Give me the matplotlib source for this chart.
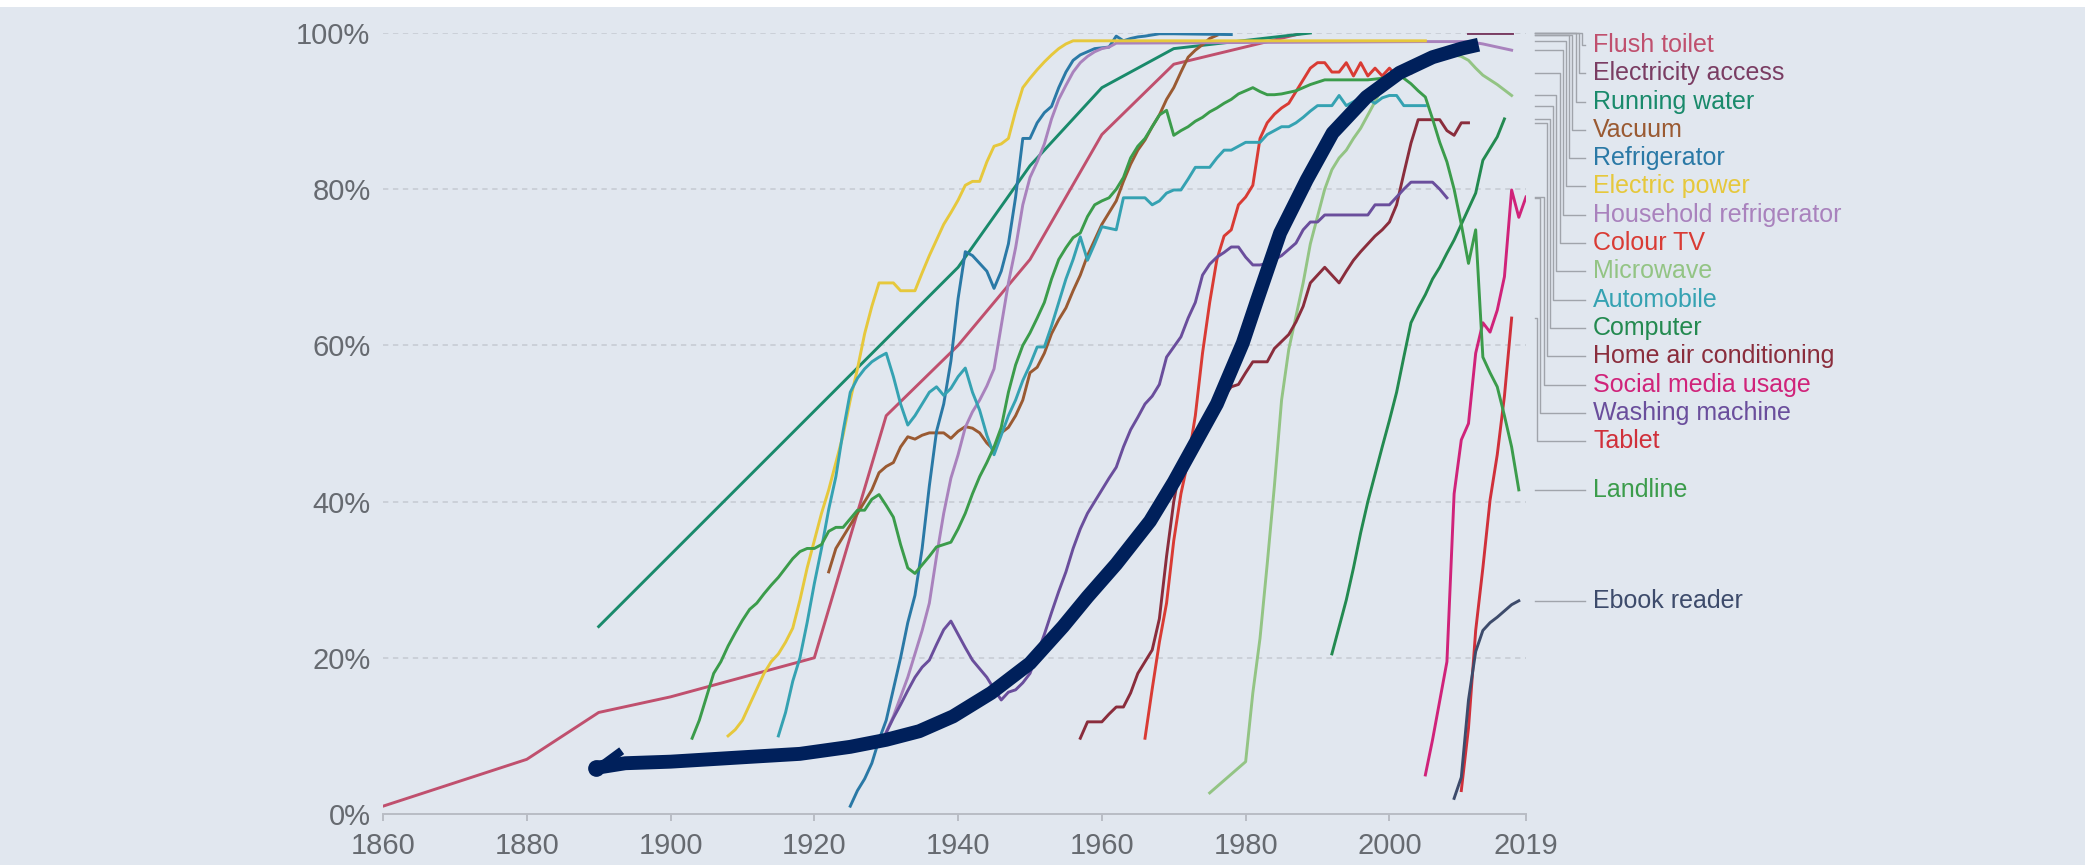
"""
technology adoption in US households, with the hand drawn S-curve on top
out: out.png
"""

import matplotlib
matplotlib.use("Agg")
import matplotlib.pyplot as plt
from matplotlib.patches import Rectangle

plt.rcParams['font.family'] = ['Liberation Sans', 'DejaVu Sans']

# ---- data (share of US households, %) ----
flush_toilet_years = [1860, 1880, 1890, 1900, 1920, 1930, 1940, 1950, 1960, 1970, 1988]
flush_toilet_vals = [1, 7, 13, 15, 20, 51, 60, 71, 87, 96, 100]

electricity_access_years = [2011, 2013, 2015, 2017]
electricity_access_vals = [100, 100, 100, 100]

running_water_years = [1890, 1940, 1950, 1960, 1970, 1989]
running_water_vals = [24, 70, 83, 93, 98, 100]

vacuum_years = list(range(1922, 1977))
vacuum_vals = [31, 34, 35.5, 37, 38.5, 40, 41.5, 43.7, 44.5, 45, 47, 48.3, 48, 48.5,
               48.8, 48.8, 48.8, 48.1, 49, 49.6, 49.4, 48.8, 47.5, 46.6, 48.8, 49.5,
               51, 53, 56.5, 57.2, 59, 61.5, 63.3, 64.8, 67, 69, 71.5, 73.5, 75.5, 77,
               78.5, 81, 83.2, 85, 86.3, 88, 89.5, 91.5, 93, 95, 96.9, 97.8, 98.5,
               99.3, 99.7]

refrigerator_years = list(range(1925, 1967)) + [1968, 1970, 1978]
refrigerator_vals = [1, 3, 4.5, 6.5, 9.5, 12, 16, 20, 24.5, 28, 34, 42, 49, 52.5, 58,
                     66, 72, 71.5, 70.5, 69.5, 67.3, 69.5, 73, 79, 86.5, 86.5, 88.5,
                     89.8, 90.6, 93, 95, 96.5, 97.2, 97.6, 98, 98.1, 98.2, 99.6, 99,
                     99.3, 99.5, 99.6, 99.9, 99.9, 99.8]

electric_power_years = list(range(1908, 1957)) + [2005]
electric_power_vals = [10, 10.8, 12, 14, 16, 18, 19.5, 20.5, 22, 23.8, 27.4, 31.5, 35,
                       38.5, 41.5, 45, 48.5, 53, 57, 61.5, 65, 68, 68, 68, 67, 67, 67,
                       69.3, 71.5, 73.5, 75.5, 77, 78.6, 80.5, 81, 81, 83.5, 85.5, 85.8,
                       86.5, 90, 93, 94.2, 95.3, 96.3, 97.2, 98, 98.6, 99, 99]

household_fridge_years = list(range(1930, 1963)) + [2005, 2011, 2013, 2017]
household_fridge_vals = [10.5, 12.5, 15, 17.5, 20.5, 23.5, 27, 33, 38.5, 43, 46, 49.5,
                         51.5, 53, 54.8, 57, 62.5, 68, 72.5, 78, 81.5, 83.5, 85.8, 89,
                         91.5, 93.3, 95, 96.2, 97, 97.6, 98, 98.2, 98.7, 98.9, 98.9,
                         98.6, 97.8]

colour_tv_years = list(range(1966, 2004))
colour_tv_vals = [9.7, 16, 22, 27, 35, 41, 45.3, 51, 59, 65.5, 71, 74, 74.8, 78, 79,
                  80.5, 86.5, 88.5, 89.6, 90.4, 91, 92.5, 94, 95.5, 96.2, 96.2, 95, 95,
                  96.2, 94.5, 96.2, 94.5, 95.5, 94.5, 95.5, 94.5, 95, 94.9]

microwave_years = [1975] + list(range(1980, 2018))
microwave_vals = [2.7, 6.7, 15.5, 22.5, 32, 42, 53, 59.5, 63.7, 68, 73, 76.5, 80, 82.5,
                  84, 85, 86.5, 87.8, 89.5, 91.2, 93, 94, 95, 95.8, 96.3, 96.6, 96.8,
                  96.8, 97, 97.1, 97.2, 97, 96.5, 95.5, 94.6, 94, 93.4, 92.7, 92]

automobile_years = list(range(1915, 2006))
automobile_vals = [10, 13, 17, 20, 24.5, 29.5, 34, 39, 43.2, 49, 54, 55.8, 57, 57.9,
                   58.5, 59, 56, 52.5, 49.8, 51, 52.5, 54, 54.7, 53.6, 54.5, 56, 57.1,
                   54, 51.7, 48.5, 46, 48.5, 51, 53, 55.5, 57.5, 59.8, 59.8, 62.5, 65.5,
                   68.5, 71, 73.9, 70.9, 73, 75.2, 75, 74.8, 78.9, 78.9, 78.9, 78.9, 78,
                   78.5, 79.5, 79.9, 79.9, 81.3, 82.8, 82.8, 82.8, 84, 85, 85, 85.5, 86,
                   86, 86, 87, 87.5, 88, 88, 88.5, 89.2, 90, 90.7, 90.7, 90.7, 92, 90.7,
                   91.2, 91.7, 91.5, 91, 91.7, 92, 92, 90.7, 90.7, 90.7, 90.7]

computer_years = [1992] + list(range(1994, 2017))
computer_vals = [20.5, 27.4, 31.5, 36, 40, 43.5, 47, 50.4, 54, 58.5, 62.9, 64.8, 66.5,
                 68.5, 70, 71.8, 73.5, 75.5, 77.5, 79.5, 83.7, 85.2, 86.7, 89]

home_ac_years = list(range(1957, 2012))
home_ac_vals = [9.7, 11.8, 11.8, 11.8, 12.8, 13.7, 13.7, 15.5, 18, 19.5, 21, 25, 33, 40,
                45, 47, 48.5, 50, 51, 52, 53.5, 54.7, 55, 56.5, 57.9, 57.9, 57.9, 59.6,
                60.5, 61.4, 63, 65, 68, 69, 70, 69, 68, 69.5, 70.9, 72, 73, 74, 74.8,
                75.8, 78, 82, 85.9, 88.9, 88.9, 88.9, 88.9, 87.5, 86.9, 88.5, 88.5]

social_media_years = list(range(2005, 2020))
social_media_vals = [5, 9.5, 14.5, 19.5, 41, 47.9, 50, 59, 62.9, 61.7, 64.5, 68.8,
                     79.9, 76.4, 79]

washing_machine_years = list(range(1930, 2009))
washing_machine_vals = [10.4, 12.3, 14, 15.8, 17.5, 18.8, 19.7, 21.7, 23.6, 24.7, 23,
                        21.3, 19.7, 18.6, 17.5, 16, 14.6, 15.6, 15.9, 16.8, 18, 20.5,
                        23, 25.8, 28.5, 31, 34, 36.5, 38.5, 40, 41.5, 43, 44.4, 47,
                        49.2, 50.8, 52.5, 53.5, 55, 58.5, 59.8, 61.1, 63.5, 65.5, 69,
                        70.4, 71.3, 71.9, 72.6, 72.6, 71.3, 70.3, 70.3, 70.5, 71, 71.5,
                        72.3, 73.1, 74.8, 75.8, 75.8, 76.7, 76.7, 76.7, 76.7, 76.7,
                        76.7, 76.7, 78, 78, 78, 79, 80, 80.9, 80.9, 80.9, 80.9, 80,
                        78.9]

tablet_years = list(range(2010, 2018))
tablet_vals = [3, 11, 23.5, 31.5, 40.2, 46, 53.5, 63.5]

landline_years = list(range(1903, 2019))
landline_vals = [9.7, 12, 15, 18, 19.5, 21.5, 23.2, 24.8, 26.2, 27, 28.2, 29.3, 30.3,
                 31.5, 32.7, 33.6, 34, 34, 34.5, 36.2, 36.7, 36.7, 37.8, 38.9, 38.9,
                 40.3, 40.9, 39.5, 38, 34.5, 31.5, 30.8, 31.9, 33, 34.2, 34.5, 34.8,
                 36.5, 38.5, 41, 43.2, 45, 47, 49.5, 54, 57.5, 60, 61.6, 63.5, 65.5,
                 68.5, 71, 72.5, 73.8, 74.4, 76.5, 78, 78.5, 78.9, 80, 81.5, 84, 85.5,
                 86.5, 88, 89.5, 90.1, 86.9, 87.5, 88, 88.7, 89.2, 89.9, 90.4, 91,
                 91.5, 92.2, 92.6, 93, 92.5, 92.1, 92.1, 92.2, 92.4, 92.6, 93, 93.4,
                 93.7, 94, 94, 94, 94, 94, 94, 94, 94.1, 94.2, 94.5, 94.9, 94.2, 93.5,
                 92.6, 91.8, 89, 86, 83.5, 80, 75.5, 70.5, 74.8, 58.5, 56.5, 54.7, 51,
                 47, 41.5]

ebook_years = list(range(2009, 2019))
ebook_vals = [2, 4.7, 14.6, 20.8, 23.5, 24.5, 25.2, 26, 26.8, 27.3]

# hand drawn annotation curve
curve_years = [1889.6, 1893.7, 1900, 1910.7, 1918, 1925, 1930, 1934.6, 1939.3, 1944.6,
               1950, 1954.6, 1958, 1962, 1966.7, 1970, 1973, 1976, 1979.6, 1981.6,
               1984.8, 1988.5, 1992.1, 1996.8, 2001.4, 2006, 2010, 2012.4]
curve_vals = [5.9, 6.5, 6.7, 7.3, 7.7, 8.6, 9.5, 10.6, 12.5, 15.5, 19.3, 24, 27.8, 32,
              37.5, 42.5, 47.5, 52.5, 60.3, 65.8, 74.4, 81.2, 87.2, 91.8, 94.9, 96.9,
              98.0, 98.5]
hook_years = [1890.4, 1893.2]
hook_vals = [6.2, 8.1]

series = [
    ("Flush toilet", flush_toilet_years, flush_toilet_vals, "#c0506e"),
    ("Electricity access", electricity_access_years, electricity_access_vals, "#7a3d63"),
    ("Running water", running_water_years, running_water_vals, "#198a6b"),
    ("Vacuum", vacuum_years, vacuum_vals, "#9a5a32"),
    ("Refrigerator", refrigerator_years, refrigerator_vals, "#2a79a6"),
    ("Household refrigerator", household_fridge_years, household_fridge_vals, "#a982bd"),
    ("Electric power", electric_power_years, electric_power_vals, "#e6c83c"),
    ("Colour TV", colour_tv_years, colour_tv_vals, "#d93b34"),
    ("Microwave", microwave_years, microwave_vals, "#93c484"),
    ("Automobile", automobile_years, automobile_vals, "#35a2b2"),
    ("Computer", computer_years, computer_vals, "#238a50"),
    ("Home air conditioning", home_ac_years, home_ac_vals, "#8a2d3c"),
    ("Social media usage", social_media_years, social_media_vals, "#d0237a"),
    ("Washing machine", washing_machine_years, washing_machine_vals, "#6a4e9c"),
    ("Tablet", tablet_years, tablet_vals, "#d0303a"),
    ("Landline", landline_years, landline_vals, "#3b9c4b"),
    ("Ebook reader", ebook_years, ebook_vals, "#3d4b6b"),
]
label_order = ["Flush toilet", "Electricity access", "Running water", "Vacuum",
               "Refrigerator", "Electric power", "Household refrigerator", "Colour TV",
               "Microwave", "Automobile", "Computer", "Home air conditioning",
               "Social media usage", "Washing machine", "Tablet", "Landline",
               "Ebook reader"]

bg = "#e1e7ef"
fig = plt.figure(figsize=(20.85, 8.65), dpi=100, facecolor=bg)
ax = fig.add_axes([383 / 2085, 51 / 865, 1143 / 2085, 781 / 865])
ax.set_facecolor(bg)
ax.set_xlim(1860, 2019)
ax.set_ylim(0, 100)

for name, yrs, vals, col in series:
    ax.plot(yrs, vals, color=col, lw=2.1, solid_joinstyle="round", zorder=3)

ax.plot(curve_years, curve_vals, color="#00205b", lw=10, solid_capstyle="butt",
        solid_joinstyle="round", zorder=5)
ax.plot(curve_years[:1], curve_vals[:1], "o", color="#00205b", ms=11, zorder=5)
ax.plot(hook_years, hook_vals, color="#00205b", lw=6, solid_capstyle="butt", zorder=5)

# axes styling
for s in ["left", "right", "top"]:
    ax.spines[s].set_visible(False)
ax.spines["bottom"].set_color("#b8bcc4")
ax.spines["bottom"].set_linewidth(1.4)
ax.set_xticks([1860, 1880, 1900, 1920, 1940, 1960, 1980, 2000, 2019])
ax.set_yticks([0, 20, 40, 60, 80, 100])
ax.set_yticklabels(["0%", "20%", "40%", "60%", "80%", "100%"])
ax.tick_params(axis="x", colors="#b8bcc4", length=5, width=1.4, pad=8,
               labelsize=21, labelcolor="#666a70")
ax.tick_params(axis="y", length=0, pad=9, labelsize=21, labelcolor="#666a70")
for yv in [20, 40, 60, 80, 100]:
    ax.axhline(yv, color="#c5cad2", lw=1.1, ls=(0, (3.5, 3)), zorder=1)

# right side labels with connectors
by_name = {s[0]: s for s in series}
px_x = 1143 / 159.0
px_y = 781 / 100.0
gap = 28.3 / px_y
prev = 100 - 12 / px_y + gap
bent = 0
for name in label_order:
    _, yrs, vals, col = by_name[name]
    end_v = vals[-1]
    lab_y = min(end_v, prev - gap)
    prev = lab_y
    x0 = 2019 + 9 / px_x
    x1 = 2019 + 59 / px_x
    if abs(lab_y - end_v) > 0.3:
        xe = 2019 + (56 - 3.2 * bent) / px_x
        bent += 1
        ax.plot([x0, xe, xe, x1], [end_v, end_v, lab_y, lab_y], color="#a0a4ab",
                lw=1.0, clip_on=False, zorder=2)
    else:
        ax.plot([x0, x1], [end_v, end_v], color="#a0a4ab", lw=1.0, clip_on=False,
                zorder=2)
    ax.text(2019 + 67 / px_x, lab_y, name, color=col, fontsize=18, va="center",
            ha="left", clip_on=False)

fig.patches.append(Rectangle((0, 1 - 7 / 865), 1, 7 / 865, transform=fig.transFigure,
                             facecolor="white", edgecolor="none", zorder=0))

plt.savefig("out.png", dpi=100, facecolor=bg)
